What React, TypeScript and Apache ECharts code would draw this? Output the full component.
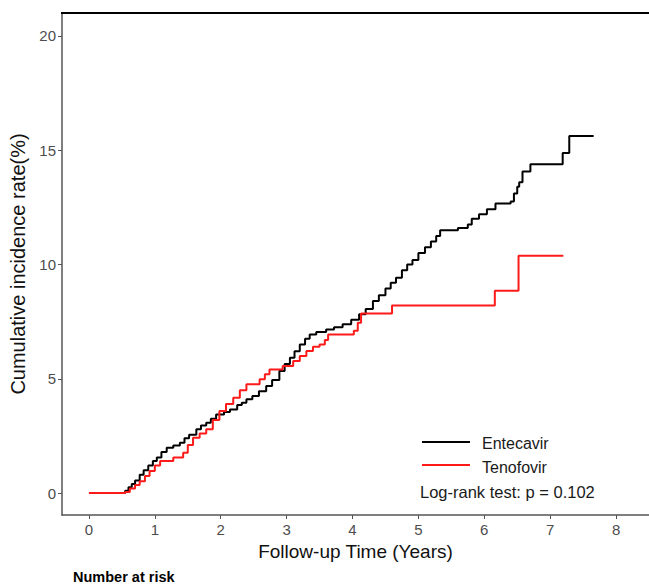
import React, { useEffect, useRef } from "react";
import * as echarts from "echarts";

const FONT = "'Liberation Sans', Arial, Helvetica, sans-serif";

const xTicks = [0, 1, 2, 3, 4, 5, 6, 7, 8];
const yTicks = [0, 5, 10, 15, 20];

const seriesNames = ["Entecavir", "Tenofovir"];

const entecavirTime = [
  0, 0.55, 0.6, 0.65, 0.7, 0.77, 0.83, 0.9, 0.97, 1.03, 1.1, 1.18, 1.28, 1.38, 1.45, 1.52, 1.63, 1.7,
  1.78, 1.85, 1.93, 2.05, 2.14, 2.25, 2.32, 2.39, 2.48, 2.58, 2.69, 2.78, 2.89, 2.97, 3.05, 3.12, 3.2,
  3.28, 3.35, 3.45, 3.6, 3.72, 3.85, 3.98, 4.1, 4.2, 4.31, 4.4, 4.5, 4.58, 4.66, 4.75, 4.83, 4.91, 5.0,
  5.1, 5.19, 5.27, 5.33, 5.6, 5.75, 5.81, 5.92, 6.04, 6.17, 6.4, 6.45, 6.5, 6.53, 6.58, 6.7, 7.19, 7.29,
  7.66,
];
const entecavirRate = [
  0, 0.1, 0.25, 0.4, 0.55, 0.8, 1.0, 1.2, 1.4, 1.55, 1.8, 1.98, 2.08, 2.2, 2.4, 2.55, 2.79, 2.95,
  3.08, 3.25, 3.44, 3.55, 3.66, 3.85, 3.95, 4.1, 4.25, 4.45, 4.68, 4.95, 5.34, 5.65, 5.92, 6.2, 6.5,
  6.75, 6.94, 7.05, 7.16, 7.25, 7.38, 7.58, 7.82, 8.05, 8.4, 8.65, 8.95, 9.2, 9.42, 9.75, 10.0, 10.2, 10.5,
  10.75, 11.0, 11.25, 11.5, 11.6, 11.75, 12.0, 12.2, 12.42, 12.67, 12.75, 13.1, 13.4, 13.6, 14.07, 14.38, 14.88, 15.62,
  15.62,
];

const tenofovirTime = [
  0, 0.55, 0.62, 0.7, 0.77, 0.85, 0.92, 1.0, 1.08, 1.28, 1.43, 1.5, 1.58, 1.68, 1.78, 1.88, 1.98, 2.08,
  2.19, 2.29, 2.39, 2.59, 2.67, 2.74, 2.94, 3.1, 3.2, 3.3, 3.4, 3.5, 3.58, 3.63, 4.02, 4.08, 4.13, 4.6,
  6.16, 6.52, 7.2,
];
const tenofovirRate = [
  0, 0.05, 0.2, 0.35, 0.52, 0.75, 0.96, 1.2, 1.4, 1.55, 1.76, 2.1, 2.42, 2.6, 2.79, 3.2, 3.59, 3.9,
  4.17, 4.5, 4.76, 4.98, 5.2, 5.41, 5.56, 5.78, 6.0, 6.21, 6.4, 6.5, 6.7, 6.94, 7.1, 7.45, 7.85, 8.2,
  8.85, 10.38, 10.38,
];

const seriesColors = ["#000000", "#ff1a1a"];
const logRankText = "Log-rank test: p = 0.102";
const xTitle = "Follow-up Time (Years)";
const yTitle = "Cumulative incidence rate(%)";
const riskTitle = "Number at risk";

function pairs(t: number[], v: number[]) {
  return t.map((x, i) => [x, v[i]]);
}

export default function App() {
  const ref = useRef<HTMLDivElement>(null);
  useEffect(() => {
    document.body.style.margin = "0";
    if (!ref.current) return;
    const chart = echarts.init(ref.current, undefined, { renderer: "svg" });
    const data = [pairs(entecavirTime, entecavirRate), pairs(tenofovirTime, tenofovirRate)];
    chart.setOption({
      animation: false,
      backgroundColor: "#ffffff",
      textStyle: { fontFamily: FONT },
      grid: { left: 62, top: 13, width: 588, height: 502, containLabel: false },
      xAxis: {
        type: "value",
        min: -0.409,
        max: 8.5,
        axisLine: { show: true, onZero: false, lineStyle: { color: "#555", width: 1.5 } },
        axisTick: { show: true, length: 4, customValues: xTicks, lineStyle: { color: "#555", width: 1 } },
        axisLabel: { fontSize: 15, color: "#4d4d4d", margin: 7, fontFamily: FONT, customValues: xTicks },
        splitLine: { show: false },
        name: xTitle,
        nameLocation: "middle",
        nameGap: 27,
        nameTextStyle: { fontSize: 19, color: "#111", fontFamily: FONT },
      },
      yAxis: {
        type: "value",
        min: -0.96,
        max: 21,
        axisLine: { show: true, onZero: false, lineStyle: { color: "#555", width: 1.5 } },
        axisTick: { show: true, length: 4, customValues: yTicks, lineStyle: { color: "#555", width: 1 } },
        axisLabel: { fontSize: 15, color: "#4d4d4d", margin: 6, fontFamily: FONT, customValues: yTicks },
        splitLine: { show: false },
        name: yTitle,
        nameLocation: "middle",
        nameGap: 25,
        nameTextStyle: { fontSize: 20, color: "#111", fontFamily: FONT },
      },
      series: seriesNames.map((name, i) => ({
        name,
        type: "line",
        step: "end",
        data: data[i],
        showSymbol: false,
        symbol: "none",
        lineStyle: { color: seriesColors[i], width: 2 },
        z: 3 + i,
      })),
      graphic: [
        {
          type: "line",
          shape: { x1: 61, y1: 13, x2: 660, y2: 13 },
          style: { stroke: "#000", lineWidth: 2 },
          z: 2,
        },
        {
          type: "line",
          shape: { x1: 422, y1: 442, x2: 470, y2: 442 },
          style: { stroke: seriesColors[0], lineWidth: 2 },
        },
        {
          type: "line",
          shape: { x1: 422, y1: 465, x2: 470, y2: 465 },
          style: { stroke: seriesColors[1], lineWidth: 2 },
        },
        {
          type: "text",
          x: 482,
          y: 443,
          style: { text: seriesNames[0], fontSize: 16, fill: "#1a1a1a", fontFamily: FONT, verticalAlign: "middle" },
        },
        {
          type: "text",
          x: 482,
          y: 467,
          style: { text: seriesNames[1], fontSize: 16, fill: "#1a1a1a", fontFamily: FONT, verticalAlign: "middle" },
        },
        {
          type: "text",
          x: 420,
          y: 492,
          style: { text: logRankText, fontSize: 16.5, fill: "#1a1a1a", fontFamily: FONT, verticalAlign: "middle" },
        },
        {
          type: "text",
          x: 73,
          y: 577,
          style: { text: riskTitle, fontSize: 14.5, fontWeight: "bold", fill: "#000", fontFamily: FONT, verticalAlign: "middle" },
        },
      ],
    });
    return () => chart.dispose();
  }, []);
  return <div ref={ref} style={{ width: 649, height: 585 }} />;
}
